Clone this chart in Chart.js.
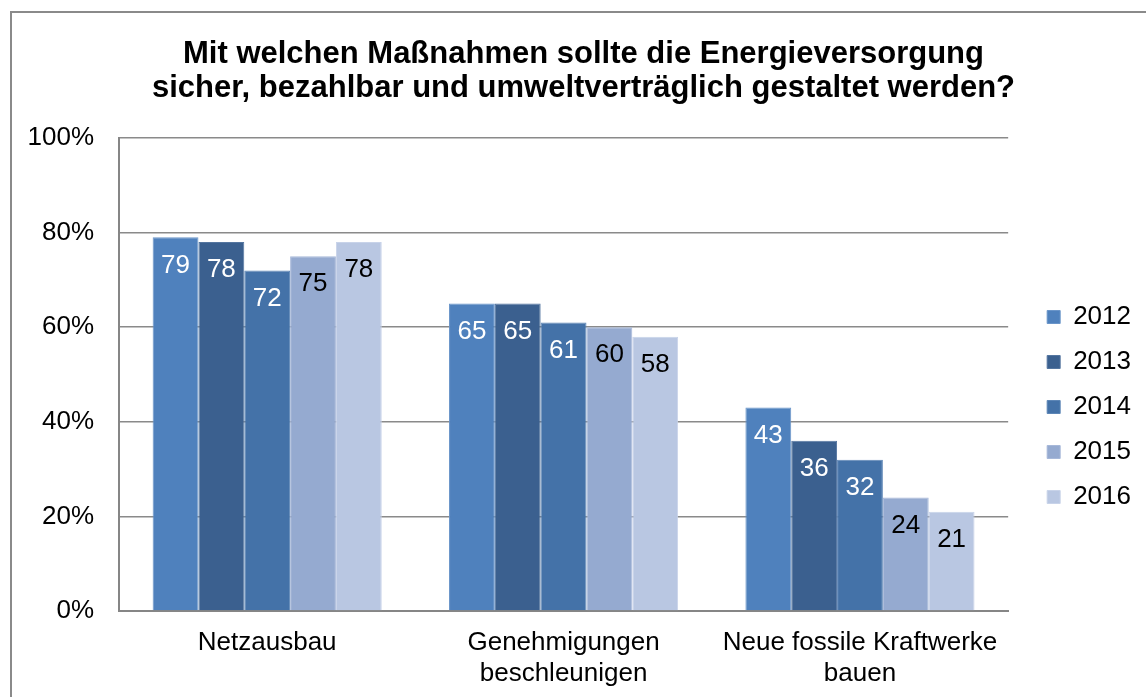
<!DOCTYPE html>
<html>
<head>
<meta charset="utf-8">
<script src="https://cdn.jsdelivr.net/npm/chart.js@4/dist/chart.umd.min.js"></script>
<style>
  html, body { margin: 0; padding: 0; background: #ffffff; overflow: hidden; width: 1146px; height: 697px; }
  #frame { position: absolute; left: 10px; top: 11px; width: 1200px; height: 720px; border: 2px solid #8a8a8a; box-sizing: border-box; }
  #c { position: absolute; left: 13px; top: 14px; }
</style>
</head>
<body>
<div id="frame"></div>
<canvas id="c" width="1133" height="683"></canvas>
<script>
const categories = ['Netzausbau', ['Genehmigungen', 'beschleunigen'], ['Neue fossile Kraftwerke', 'bauen']];
const seriesNames = ['2012', '2013', '2014', '2015', '2016'];
const values2012 = [79, 65, 43];
const values2013 = [78, 65, 36];
const values2014 = [72, 61, 32];
const values2015 = [75, 60, 24];
const values2016 = [78, 58, 21];
const yTicks = [0, 20, 40, 60, 80, 100];
const titleLines = ['Mit welchen Maßnahmen sollte die Energieversorgung', 'sicher, bezahlbar und umweltverträglich gestaltet werden?'];

const colors = ['#4F81BD', '#3B608F', '#4472A8', '#95AAD0', '#B9C7E2'];
const edgeColors = ['#6A95C9', '#5576A0', '#5D86B6', '#A7B8D9', '#C8D3E9'];
const labelColors = ['#ffffff', '#ffffff', '#ffffff', '#000000', '#000000'];
const allValues = [values2012, values2013, values2014, values2015, values2016];

const FONT = "'Liberation Sans', Arial, sans-serif";

const datasets = seriesNames.map((name, i) => ({
  label: name,
  data: allValues[i],
  backgroundColor: colors[i],
  borderColor: edgeColors[i],
  borderWidth: 1,
  yAxisID: 'y',
  categoryPercentage: 0.773,
  barPercentage: 1.0
}));

const valueLabels = {
  id: 'valueLabels',
  afterDatasetsDraw(chart) {
    const ctx = chart.ctx;
    ctx.save();
    ctx.font = '26px ' + FONT;
    ctx.textAlign = 'center';
    ctx.textBaseline = 'middle';
    chart.data.datasets.forEach((ds, i) => {
      const meta = chart.getDatasetMeta(i);
      ctx.fillStyle = labelColors[i];
      meta.data.forEach((bar, j) => {
        ctx.fillText(String(ds.data[j]), bar.x, bar.y + 28);
      });
    });
    ctx.restore();
  }
};

new Chart(document.getElementById('c'), {
  type: 'bar',
  data: { labels: categories, datasets },
  options: {
    responsive: false,
    animation: false,
    layout: { padding: { left: 13, right: 5, top: 0, bottom: 0 } },
    plugins: {
      title: {
        display: true,
        text: titleLines,
        color: '#000000',
        font: { family: FONT, size: 31, weight: 'bold', lineHeight: '34px' },
        padding: { top: 23, bottom: 33 }
      },
      legend: {
        position: 'right',
        align: 'start',
        title: {
          display: true,
          text: ' ',
          font: { family: FONT, size: 10, lineHeight: 1 },
          padding: { top: 261, bottom: 0 }
        },
        labels: {
          boxWidth: 13,
          boxHeight: 13,
          padding: 19,
          color: '#000000',
          font: { family: FONT, size: 26 }
        }
      },
      tooltip: { enabled: false }
    },
    scales: {
      x: {
        grid: { display: false, drawTicks: false },
        border: { display: true, color: '#868686', width: 2 },
        ticks: {
          color: '#000000',
          padding: 16,
          maxRotation: 0,
          autoSkip: false,
          font: { family: FONT, size: 26, lineHeight: '31px' }
        },
        afterFit(s) { s.height = 86; }
      },
      y: {
        min: 0,
        max: 100,
        afterBuildTicks(s) { s.ticks = yTicks.map(v => ({ value: v })); },
        grid: { color: '#8a8a8a', lineWidth: 1.5, drawTicks: false },
        border: { display: true, color: '#868686', width: 2 },
        ticks: {
          color: '#000000',
          padding: 25,
          font: { family: FONT, size: 26 },
          callback: (v) => v + '%'
        },
        afterFit(s) { s.width = 93; }
      },
      yR: {
        type: 'linear',
        position: 'right',
        display: true,
        grid: { display: false, drawTicks: false },
        border: { display: false },
        ticks: { display: false },
        afterFit(s) { s.width = 20; }
      }
    }
  },
  plugins: [valueLabels]
});
</script>
</body>
</html>
